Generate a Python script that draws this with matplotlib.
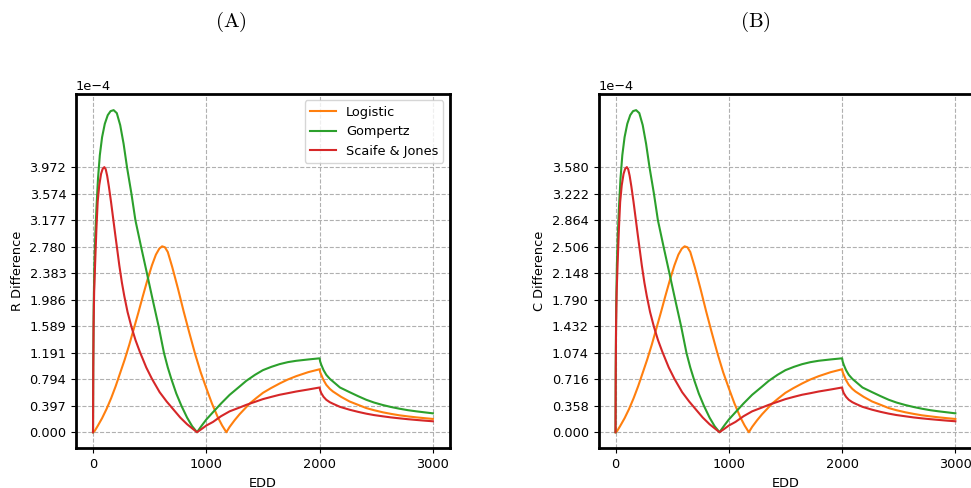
import numpy as np
import matplotlib
matplotlib.use('Agg')
from matplotlib import pyplot as plt

matplotlib.rcParams['font.size'] = 9.3

# EDD sample points and differences (units of 1e-4)
logi_x = [0, 15, 40, 80, 120, 160, 200, 240, 280, 320, 360, 400, 440, 480, 520, 555, 585, 610,
          635, 660, 700, 750, 800, 850, 900, 950, 1000, 1050, 1100, 1140, 1177, 1206, 1250,
          1294, 1383, 1440, 1500, 1570, 1647, 1720, 1794, 1900, 2000, 2005, 2015, 2035, 2059,
          2090, 2118, 2190, 2265, 2340, 2412, 2480, 2559, 2630, 2706, 2780, 2853, 2930, 3000]
logi_r = [0, 0.02, 0.09, 0.21, 0.35, 0.51, 0.69, 0.89, 1.09, 1.31, 1.55, 1.79, 2.04, 2.28, 2.50,
          2.66, 2.75, 2.785, 2.77, 2.70, 2.47, 2.15, 1.81, 1.49, 1.18, 0.90, 0.66, 0.43, 0.23,
          0.10, 0, 0.08, 0.18, 0.27, 0.43, 0.51, 0.59, 0.66, 0.73, 0.79, 0.84, 0.90, 0.943, 0.90,
          0.86, 0.78, 0.71, 0.65, 0.61, 0.53, 0.46, 0.41, 0.362, 0.33, 0.298, 0.275, 0.253,
          0.237, 0.223, 0.21, 0.199]
logi_c = [0, 0.018, 0.081, 0.189, 0.315, 0.460, 0.622, 0.802, 0.983, 1.181, 1.397, 1.614, 1.839,
          2.055, 2.254, 2.398, 2.479, 2.510, 2.497, 2.434, 2.227, 1.938, 1.632, 1.343, 1.064,
          0.811, 0.595, 0.388, 0.207, 0.090, 0, 0.072, 0.162, 0.243, 0.388, 0.460, 0.532, 0.595,
          0.658, 0.712, 0.757, 0.811, 0.850, 0.811, 0.775, 0.703, 0.640, 0.586, 0.550, 0.478,
          0.415, 0.370, 0.326, 0.297, 0.269, 0.248, 0.228, 0.214, 0.201, 0.189, 0.179]

gomp_x = [0, 2, 6, 12, 20, 30, 44, 60, 80, 104, 130, 155, 182, 210, 240, 270, 300, 339, 374,
          424, 476, 526, 580, 626, 660, 692, 735, 780, 830, 875, 918, 960, 1000, 1059, 1130,
          1206, 1294, 1353, 1430, 1500, 1575, 1647, 1720, 1794, 1900, 2000, 2005, 2015, 2035,
          2059, 2090, 2118, 2180, 2265, 2340, 2412, 2480, 2559, 2630, 2706, 2780, 2853, 2930,
          3000]
gomp_r = [0, 1.0, 1.9, 2.5, 2.95, 3.35, 3.8, 4.15, 4.42, 4.62, 4.75, 4.81, 4.825, 4.78, 4.6,
          4.32, 3.97, 3.574, 3.177, 2.78, 2.38, 1.99, 1.58, 1.19, 0.97, 0.794, 0.58, 0.397, 0.22,
          0.09, 0, 0.10, 0.19, 0.30, 0.43, 0.56, 0.685, 0.77, 0.86, 0.93, 0.98, 1.02, 1.05, 1.07,
          1.09, 1.107, 1.06, 1.01, 0.93, 0.86, 0.80, 0.76, 0.67, 0.60, 0.54, 0.486, 0.445, 0.407,
          0.378, 0.352, 0.33, 0.313, 0.297, 0.283]
gomp_c = [0, 0.901, 1.713, 2.254, 2.659, 3.020, 3.425, 3.741, 3.984, 4.165, 4.282, 4.336, 4.349,
          4.309, 4.147, 3.894, 3.579, 3.222, 2.864, 2.506, 2.145, 1.794, 1.424, 1.073, 0.874,
          0.716, 0.523, 0.358, 0.198, 0.081, 0, 0.090, 0.171, 0.270, 0.388, 0.505, 0.617, 0.694,
          0.775, 0.838, 0.883, 0.919, 0.946, 0.965, 0.983, 0.998, 0.956, 0.910, 0.838, 0.775,
          0.721, 0.685, 0.604, 0.541, 0.487, 0.438, 0.401, 0.367, 0.341, 0.317, 0.297, 0.282,
          0.268, 0.255]

sj_x = [0, 2, 5, 10, 18, 30, 41, 55, 71, 85, 100, 112, 125, 140, 159, 178, 197, 215, 232, 255,
        276, 305, 339, 375, 412, 470, 520, 588, 650, 710, 770, 830, 870, 918, 960, 1000, 1059,
        1130, 1206, 1294, 1353, 1430, 1500, 1575, 1647, 1720, 1794, 1900, 2000, 2005, 2015,
        2035, 2059, 2090, 2118, 2180, 2265, 2340, 2412, 2480, 2559, 2630, 2706, 2780, 2853,
        2930, 3000]
sj_r = [0, 0.9, 1.6, 2.1, 2.5, 3.05, 3.45, 3.7, 3.87, 3.945, 3.9716, 3.94, 3.84, 3.68, 3.45,
        3.2, 2.95, 2.72, 2.5, 2.24, 2.04, 1.80, 1.58, 1.38, 1.21, 0.97, 0.80, 0.60, 0.46, 0.34,
        0.22, 0.12, 0.065, 0, 0.05, 0.10, 0.154, 0.24, 0.313, 0.37, 0.41, 0.455, 0.496, 0.53,
        0.561, 0.585, 0.61, 0.64, 0.67, 0.63, 0.585, 0.53, 0.486, 0.45, 0.427, 0.38, 0.337,
        0.305, 0.278, 0.257, 0.238, 0.222, 0.208, 0.195, 0.184, 0.173, 0.164]
sj_c = [0, 0.811, 1.442, 1.893, 2.254, 2.749, 3.110, 3.335, 3.489, 3.556, 3.5801, 3.552, 3.461,
        3.317, 3.110, 2.885, 2.659, 2.452, 2.254, 2.019, 1.839, 1.623, 1.424, 1.244, 1.091,
        0.874, 0.721, 0.541, 0.415, 0.306, 0.198, 0.108, 0.059, 0, 0.045, 0.090, 0.139, 0.216,
        0.282, 0.334, 0.370, 0.410, 0.447, 0.478, 0.506, 0.527, 0.550, 0.577, 0.604, 0.568,
        0.527, 0.478, 0.438, 0.406, 0.385, 0.343, 0.304, 0.275, 0.251, 0.232, 0.215, 0.200,
        0.187, 0.176, 0.166, 0.156, 0.148]

# top tick of each panel (ticks are 10 equal steps from 0)
r_tick_max = 3.9716
c_tick_max = 3.5801

fig = plt.figure(figsize=(9.71, 4.88), dpi=100)
ax1 = fig.add_axes([0.0783, 0.0813, 0.385, 0.726])
ax2 = fig.add_axes([0.6164, 0.0813, 0.385, 0.726])

panels = [(ax1, logi_r, gomp_r, sj_r, r_tick_max, 'R Difference'),
          (ax2, logi_c, gomp_c, sj_c, c_tick_max, 'C Difference')]

for ax, lg, gp, sj, tmax, ylab in panels:
    ax.plot(logi_x, np.array(lg) * 1e-4, color='tab:orange', lw=1.5, label='Logistic')
    ax.plot(gomp_x, np.array(gp) * 1e-4, color='tab:green', lw=1.5, label='Gompertz')
    ax.plot(sj_x, np.array(sj) * 1e-4, color='tab:red', lw=1.5, label='Scaife & Jones')
    ax.set_yticks(np.linspace(0, tmax, 11) * 1e-4)
    ax.set_xticks([0, 1000, 2000, 3000])
    ax.ticklabel_format(axis='y', style='sci', scilimits=(0, 0))
    ax.grid(True, linestyle='--', color='#b0b0b0', lw=0.8)
    for s in ax.spines.values():
        s.set_linewidth(2)
    ax.set_xlabel('EDD')
    ax.set_ylabel(ylab)

ax1.legend(loc='upper right')

fig.text(0.238, 0.955, r'$\mathrm{(A)}$', ha='center', va='center', fontsize=15, math_fontfamily='cm')
fig.text(0.7775, 0.955, r'$\mathrm{(B)}$', ha='center', va='center', fontsize=15, math_fontfamily='cm')

fig.savefig('out.png', dpi=100)
